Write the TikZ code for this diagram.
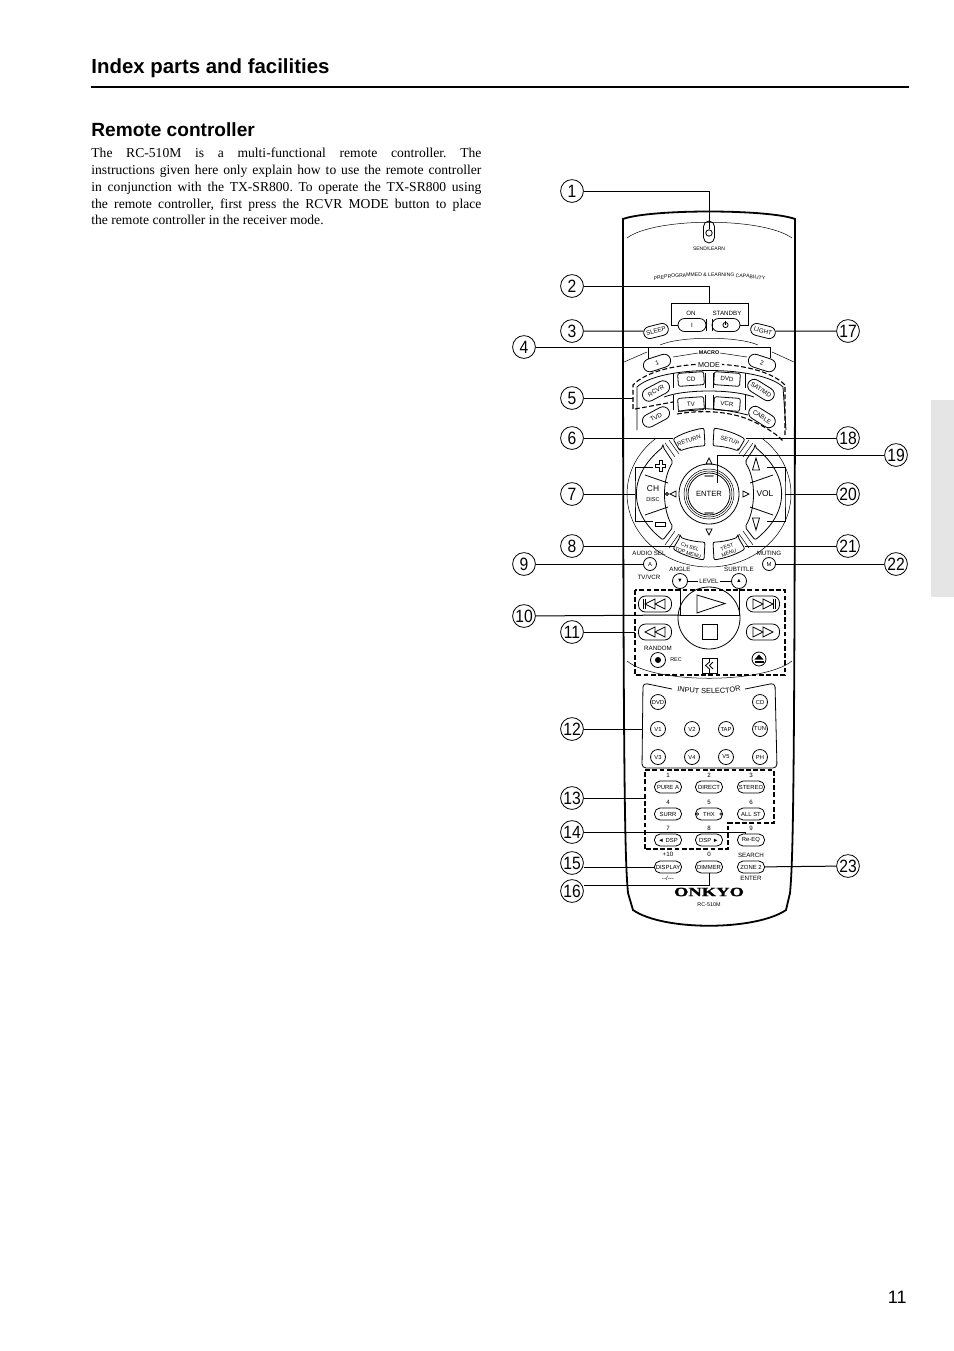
\documentclass[tikz,border=0pt]{standalone}
\usepackage{fontspec}
\setmainfont{Liberation Serif}
\setsansfont{Liberation Sans}
\newfontfamily\onkyofont[FakeBold=1.5,FakeStretch=1.47]{Liberation Serif Bold}
\usetikzlibrary{shapes.misc}
\usetikzlibrary{decorations.text}
\definecolor{tabgrey}{HTML}{E5E5E5}
\newcommand{\keyfont}{\fontsize{3.1}{3.7}\selectfont\sffamily}
\tikzset{
  callout/.style={draw, circle, line width=0.4pt, minimum size=11.4pt, inner sep=0pt, font=\fontsize{8.9}{9}\selectfont\sffamily},
  leader/.style={line width=0.5pt},
  shell/.style={line width=0.9pt},
  keyline/.style={line width=0.4pt},
  thinline/.style={line width=0.25pt},
  zone/.style={line width=0.55pt, dash pattern=on 2.4pt off 1.2pt},
  pillkey/.style={draw, keyline, rounded rectangle, minimum width=13.5pt, minimum height=6pt, inner sep=0pt, font=\keyfont},
  padkey/.style={draw, keyline, rounded corners=2.8pt, minimum width=13.5pt, minimum height=6pt, inner sep=0pt, font=\fontsize{2.95}{3.7}\selectfont\sffamily},
  roundkey/.style={draw, keyline, circle, minimum size=7.5pt, inner sep=0pt, font=\fontsize{2.9}{3}\selectfont\sffamily},
  boxkey/.style={draw, keyline, rounded corners=1pt, minimum width=13pt, minimum height=6.5pt, inner sep=0pt, font=\keyfont},
  caption/.style={inner sep=0pt, font=\keyfont}
}
\begin{document}
\begin{tikzpicture}[x=0.5pt,y=-0.5pt]
  \useasboundingbox (0,0) rectangle (954,1351);

  % page text
  \node [anchor=base west, inner sep=0pt, font=\fontsize{10.2}{12}\selectfont\sffamily\bfseries] (pagetitle) at (91,73.5) {Index parts and facilities};
  \draw[line width=1pt] (91,87) -- (909,87);
  \node [anchor=base west, inner sep=0pt, font=\fontsize{9.55}{12}\selectfont\sffamily\bfseries] (sectiontitle) at (91,136) {Remote controller};
  \node [anchor=north west, inner sep=0pt, text width=195pt, align=justify, font=\fontsize{6.8}{8.42}\selectfont\frenchspacing] (bodytext) at (91,147.5) {The RC-510M is a multi-functional remote controller. The\linebreak
    instructions given here only explain how to use the remote controller\linebreak
    in conjunction with the TX-SR800. To operate the TX-SR800 using\linebreak
    the remote controller, first press the RCVR MODE button to place\linebreak
    the remote controller in the receiver mode.};
  \node [anchor=base east, inner sep=0pt, font=\fontsize{9}{9}\selectfont\sffamily] (pagenumber) at (907,1303.5) {11};
  \fill[tabgrey] (931,400) rectangle (954,597);

  % remote body
  \draw[shell] (628,893) .. controls (625,860) and (623,800) .. (623,219) .. controls (650,209) and (768,209) .. (795,219)
    .. controls (795,800) and (793,860) .. (790,893) -- (786,910) .. controls (755,931) and (663,931) .. (633,910) -- cycle;
  \draw[thinline] (627,238) .. controls (655,217) and (763,217) .. (792,238);
  \draw[thinline] (660,345) .. controls (680,336) and (738,336) .. (758,345);
  \draw[thinline] (624,362) -- (647,352);
  \draw[thinline] (794,362) -- (772,352);
  \draw[thinline] (673,357) -- (698,353);
  \draw[thinline] (720,353) -- (747,357);
  \draw[thinline] (627,661) .. controls (655,684) and (763,684) .. (792,661);

  % top keys
  \node [draw, keyline, rounded rectangle, rotate=90, minimum width=11pt, minimum height=5.5pt, inner sep=0pt] (sendkey) at (709,232) {};
  \node [draw, keyline, circle, minimum size=3.2pt, inner sep=0pt] (sendled) at (709,233) {};
  \node [caption, font=\fontsize{2.5}{3}\selectfont\sffamily] (sendtext) at (709,249) {SEND/LEARN};
  \path[decorate, decoration={text along path, text align=center, text={|\fontsize{2.55}{3}\selectfont\sffamily|PREPROGRAMMED {\&} LEARNING CAPABILITY}}]
    (640,283) .. controls (675,274) and (743,274) .. (779,283);
  \draw[keyline] (678,325) -- (671,325) -- (671,303) -- (748,303) -- (748,325) -- (740,325);
  \node [pillkey, minimum width=14pt, minimum height=6.5pt] (onkey) at (692,325) {I};
  \node [pillkey, minimum width=14pt, minimum height=6.5pt] (standbykey) at (726,325) {};
  \draw[keyline] (725.5,325) circle (2.6);
  \draw[keyline] (725.5,321) -- (725.5,325);
  \draw[thinline] (706,319) -- (706,331);
  \draw[thinline] (712,319) -- (712,331);
  \node [caption] (ontext) at (691,313) {ON};
  \node [caption] (standbytext) at (727,313) {STANDBY};
  \node [pillkey, rotate=14, minimum width=12.5pt] (sleepkey) at (656,331) {SLEEP};
  \node [pillkey, rotate=-14, minimum width=12.5pt] (lightkey) at (763,331) {LIGHT};
  \node [pillkey, rotate=18, minimum width=14pt, minimum height=6.5pt] (macroone) at (657,363) {1};
  \node [pillkey, rotate=-18, minimum width=14pt, minimum height=6.5pt] (macrotwo) at (762,363) {2};
  \node [caption, font=\fontsize{2.7}{3}\selectfont\sffamily\bfseries] (macrotext) at (709,353) {MACRO};

  % mode keys
  \draw[keyline] (637,430) -- (637,387) .. controls (660,365) and (760,365) .. (783,387) -- (786,430);
  \draw[keyline] (664,397) .. controls (685,389) and (733,389) .. (754,397);
  \draw[keyline] (678,411.5) .. controls (700,407) and (720,408) .. (748,415);
  \foreach \slitx in {673,705,713,745} {
    \draw[thinline] (\slitx,373) -- (\slitx,388);
    \draw[thinline] (\slitx,395) -- (\slitx,410);
  }
  \node [pillkey, rotate=28, minimum width=14.5pt, minimum height=6.5pt] (rcvrkey) at (656,391) {RCVR};
  \node [boxkey, rotate=4] (cdkey) at (691,379) {CD};
  \node [boxkey, rotate=-4] (dvdkey) at (727,379) {DVD};
  \node [pillkey, rotate=-32, minimum width=14.5pt, minimum height=6.5pt] (satkey) at (761,390) {SAT/MD};
  \node [pillkey, rotate=28, minimum width=14.5pt, minimum height=6.5pt] (tvdkey) at (656,417) {TVD};
  \node [boxkey, rotate=4] (tvkey) at (691,404) {TV};
  \node [boxkey, rotate=-4] (vcrkey) at (727,404) {VCR};
  \node [pillkey, rotate=-32, minimum width=14.5pt, minimum height=6.5pt] (cablekey) at (762,417) {CABLE};
  \draw[zone] (633,409) -- (633,385) .. controls (660,357) and (758,357) .. (785,385) -- (785,435);
  \draw[zone] (635,409) -- (673,402);
  \draw[zone] (677,414) .. controls (700,410) and (725,411) .. (745,418) .. controls (760,424) and (775,432) .. (783,441);
  \node [caption, fill=white, inner xsep=1pt, font=\fontsize{3.6}{4}\selectfont\sffamily] (modetext) at (709,365) {MODE};

  % wheel
  \draw[thinline] (709,494) ++(-50:82 and 73) arc[start angle=-50, end angle=230, x radius=82, y radius=73];
  \foreach \sx in {1,-1} {
    \begin{scope}[shift={(709,494)}, xscale=\sx]
      \draw[keyline, rounded corners=1pt] (-46,-47) -- (-36,-32) .. controls (-47,-15) and (-47,15) .. (-36,33) -- (-46,46)
        .. controls (-81,18) and (-81,-18) .. cycle;
      \draw[keyline] (-64,-19) -- (-41,-11);
      \draw[keyline] (-64,21) -- (-41,13);
      \foreach \sy in {1,-1} {
        \begin{scope}[yscale=\sy]
          \draw[keyline, rounded corners=1pt] (-29,-43) -- (-36,-55) .. controls (-26,-61) and (-16,-64) .. (-5,-66) -- (-4,-48) .. controls (-12,-48) and (-22,-46) .. cycle;
          \draw[thinline] (-44,-51) -- (-34,-37);
          \draw[thinline] (-40,-54) -- (-30,-40);
        \end{scope}
      }
    \end{scope}
  }
  \node [caption, rotate=19, font=\fontsize{2.9}{3}\selectfont\sffamily] (returnkey) at (689,440.5) {RETURN};
  \node [caption, rotate=-19, font=\fontsize{2.9}{3}\selectfont\sffamily] (setupkey) at (730,440.5) {SETUP};
  \node [caption, rotate=-19, align=center, font=\fontsize{2.6}{3}\selectfont\sffamily] (chselkey) at (689,550) {CH SEL\\TOP MENU};
  \node [caption, rotate=19, align=center, font=\fontsize{2.6}{3}\selectfont\sffamily] (testkey) at (728,550) {TEST\\MENU};
  \node [caption, font=\fontsize{4.2}{4}\selectfont\sffamily] (chtext) at (653,489) {CH};
  \node [caption, font=\fontsize{2.8}{3}\selectfont\sffamily] (disctext) at (653,500) {DISC};
  \node [caption, font=\fontsize{4.2}{4}\selectfont\sffamily] (voltext) at (765,494) {VOL};
  \draw[keyline] (659,460) -- (662,460) -- (662,464) -- (665.5,464) -- (665.5,467) -- (662,467) -- (662,471) -- (659,471) -- (659,467) -- (655.5,467) -- (655.5,464) -- (659,464) -- cycle;
  \draw[keyline] (655,522) rectangle (665.5,526);
  \draw[keyline] (756,458) -- (752.5,470) -- (759.5,470) -- cycle;
  \draw[keyline] (756,530) -- (752.5,518) -- (759.5,518) -- cycle;
  \draw[keyline] (709,494) circle (30);
  \draw[thinline] (709,494) circle (25);
  \draw[thinline] (709,494) circle (23);
  \node [draw, keyline, circle, minimum size=21pt, inner sep=0pt, font=\fontsize{3.8}{4}\selectfont\sffamily] (enterkey) at (709,494) {ENTER};
  \draw[line width=1pt, line cap=round, gray] (705,476) -- (713,476);
  \draw[line width=1pt, line cap=round, gray] (705,513) -- (713,513);
  \draw[keyline] (709,458) -- (706,464) -- (712,464) -- cycle;
  \draw[keyline] (709,535) -- (706,529) -- (712,529) -- cycle;
  \draw[keyline] (670,494) -- (676,491) -- (676,497) -- cycle;
  \draw[keyline] (749,494) -- (743,491) -- (743,497) -- cycle;
  \draw[keyline] (667,494) circle (1.5);

  % level row
  \node [roundkey, minimum size=6.5pt] (audiokey) at (650,564) {A};
  \node [roundkey, minimum size=6.5pt] (mutingkey) at (769,564) {M};
  \node [caption] (audiotext) at (649,553) {AUDIO SEL};
  \node [caption] (mutingtext) at (769,553) {MUTING};
  \node [caption] (tvvcrtext) at (649,577) {TV/VCR};
  \node [caption] (angletext) at (680,569) {ANGLE};
  \node [caption] (subtitletext) at (739,569) {SUBTITLE};
  \node [roundkey] (anglekey) at (680,581) {▼};
  \node [roundkey] (subtitlekey) at (739,581) {▲};
  \node [caption] (leveltext) at (709,581) {LEVEL};
  \draw[thinline] (688,581) -- (698,581);
  \draw[thinline] (720,581) -- (731,581);

  % transport keys
  \draw[zone] (635,590) rectangle (785,675);
  \draw[keyline] (709,618) circle (31);
  \draw[keyline] (697,595) -- (697,613) -- (725,603.5) -- cycle;
  \draw[keyline] (702,624) rectangle (717,639);
  \foreach \cx/\cy/\dir/\bar in {655/604/1/1,763/604/-1/1,655/632/1/0,763/632/-1/0} {
    \begin{scope}[shift={(\cx,\cy)}, xscale=\dir]
      \draw[keyline, rounded corners=3.5pt] (-16.5,-8) rectangle (16.5,8);
      \draw[keyline] (-10,0) -- (0,-5) -- (0,5) -- cycle;
      \draw[keyline] (0,0) -- (10,-5) -- (10,5) -- cycle;
      \ifnum\bar=1
        \draw[keyline] (-12,-5) -- (-12,5);
        \draw[keyline] (-10,-5) -- (-10,5);
      \fi
    \end{scope}
  }
  \node [caption] (randomtext) at (658,648) {RANDOM};
  \node [draw, keyline, circle, minimum size=7.5pt, inner sep=0pt] (reckey) at (658,660) {};
  \fill (658,660) circle (3);
  \node [caption, font=\fontsize{2.7}{3}\selectfont\sffamily] (rectext) at (676,660) {REC};
  \node [draw, keyline, circle, minimum size=7pt, inner sep=0pt] (ejectkey) at (759,659) {};
  \fill (754.5,659.5) -- (763.5,659.5) -- (759,654.5) -- cycle;
  \fill (754.5,661) rectangle (763.5,662.5);
  \draw[keyline] (702,658) rectangle (717,673);
  \draw[keyline] (709.5,658) -- (709.5,662) -- (705.5,665.5) -- (709.5,669) -- (709.5,673);
  \draw[keyline] (713,662) -- (709.5,665.5) -- (713,669);

  % input selector
  \draw[keyline, rounded corners=2pt] (672,689) -- (643,683) -- (642,768) -- (777,768) -- (775,683) -- (745,689);
  \path[decorate, decoration={text along path, text align=center, text={|\fontsize{3.7}{4}\selectfont\sffamily|INPUT SELECTOR}}]
    (672,690) .. controls (695,695) and (724,695) .. (746,690);
  \foreach \keyname/\keyx/\keyy/\keytext in {dvd/658/702/DVD,cd/760/702/CD,vone/658/729/V1,vtwo/692/729/V2,tap/726/729/TAP,tun/760/729/TUN,vthree/658/757/V3,vfour/692/757/V4,vfive/726/757/V5,ph/760/757/PH}
    \node [roundkey] (\keyname) at (\keyx,\keyy) {\keytext};

  % number keys
  \draw[zone] (645,849) -- (645,770) -- (774,770) -- (774,823) -- (728,823) -- (728,849) -- cycle;
  \foreach \keyname/\keyx/\keyy/\keytext in {purea/668/787/PURE A,direct/709/787/DIRECT,stereo/751/787/STEREO,surr/668/814/SURR,thx/709/814/THX,allst/751/814/ALL ST,dspl/668/840/◄ DSP,dspr/709/840/DSP ►,reeq/751/840/Re-EQ,display/668/867/DISPLAY,dimmer/709/867/DIMMER,zonetwo/751/867/ZONE 2}
    \node [padkey] (\keyname) at (\keyx,\keyy) {\keytext};
  \draw[thinline] (697.5,814) circle (1.2);
  \draw[thinline] (721,814) circle (1.2);
  \foreach \capx/\capy/\captext [count=\capi] in {668/775/1,709/775/2,751/775/3,668/802/4,709/802/5,751/802/6,668/828/7,709/828/8,751/828/9,668/854/+10,709/854/0,751/855/SEARCH,751/878/ENTER,668/878/{-{}-/-{}-{}-}}
    \node [caption] (cap\capi) at (\capx,\capy) {\captext};
  \node [inner sep=0pt, font=\fontsize{6.3}{7}\onkyofont] (onkyotext) at (709,892) {ONKYO};
  \node [caption, font=\fontsize{2.7}{3}\selectfont\sffamily] (modeltext) at (709,905) {RC-510M};

  % callouts
  \foreach \num/\numx/\numy in {1/572/191,2/572/286,3/572/331,4/524/347,5/572/398,6/572/438,7/572/494,8/572/546,9/524/564,10/524/616,11/572/632,12/572/729,13/572/798,14/572/832,15/572/863,16/572/891,17/848/331,18/848/438,19/896/455,20/848/494,21/848/546,22/896/564,23/848/866}
    \node [callout] (n\num) at (\numx,\numy) {\scalebox{0.88}[1]{\num}};

  % leaders
  \coordinate (powerbox) at (709,303);
  \coordinate (macrojoinone) at (648,347);
  \coordinate (macrojointwo) at (770,347);
  \coordinate (macroendone) at (648,359);
  \coordinate (macroendtwo) at (770,358);
  \coordinate (modezone) at (633,398);
  \coordinate (returnpoint) at (673,438);
  \coordinate (setuppoint) at (746,438);
  \coordinate (chselpoint) at (674,546);
  \coordinate (testpoint) at (745,546);
  \coordinate (chbracket) at (635,494);
  \coordinate (chtop) at (653,467);
  \coordinate (chbottom) at (653,521);
  \coordinate (volbracket) at (785,494);
  \coordinate (voltop) at (767,467);
  \coordinate (volbottom) at (767,521);
  \coordinate (enterpoint) at (717,483);
  \coordinate (leveljoin) at (680,615);
  \coordinate (transportzone) at (635,632);
  \coordinate (inputedge) at (642,729);
  \coordinate (numberzone) at (645,798);
  \coordinate (reeqtop) at (745,834);
  \coordinate (dimmerjoin) at (709,885);
  \draw[leader] (n1) -| (sendled);
  \draw[leader] (n2) -| (powerbox);
  \draw[leader] (n3) -- (sleepkey);
  \draw[leader] (n4) -- (macrojoinone) -- (macroendone);
  \draw[leader] (macrojoinone) -- (macrojointwo) -- (macroendtwo);
  \draw[leader] (n5) -- (modezone);
  \draw[leader] (n6) -- (returnpoint);
  \draw[leader] (n7) -- (chbracket);
  \draw[leader] (chtop) -| (chbracket) |- (chbottom);
  \draw[leader] (n8) -- (chselpoint);
  \draw[leader] (n9) -- (audiokey);
  \draw[leader] (n10) -- (leveljoin);
  \draw[leader] (anglekey) -- (leveljoin);
  \draw[leader] (leveljoin) -| (subtitlekey);
  \draw[leader] (n11) -- (transportzone);
  \draw[leader] (n12) -- (inputedge);
  \draw[leader] (n13) -- (numberzone);
  \draw[leader] (n14) -| (reeqtop);
  \draw[leader] (n15.east |- display) -- (display);
  \draw[leader] (n16.east |- dimmerjoin) -- (dimmerjoin) -- (dimmer);
  \draw[leader] (n17) -- (lightkey);
  \draw[leader] (n18) -- (setuppoint);
  \draw[leader] (n19) -| (enterpoint);
  \draw[leader] (n20) -- (volbracket);
  \draw[leader] (voltop) -| (volbracket) |- (volbottom);
  \draw[leader] (n21) -- (testpoint);
  \draw[leader] (n22) -- (mutingkey);
  \draw[leader] (n23) -- (zonetwo);
\end{tikzpicture}
\end{document}
